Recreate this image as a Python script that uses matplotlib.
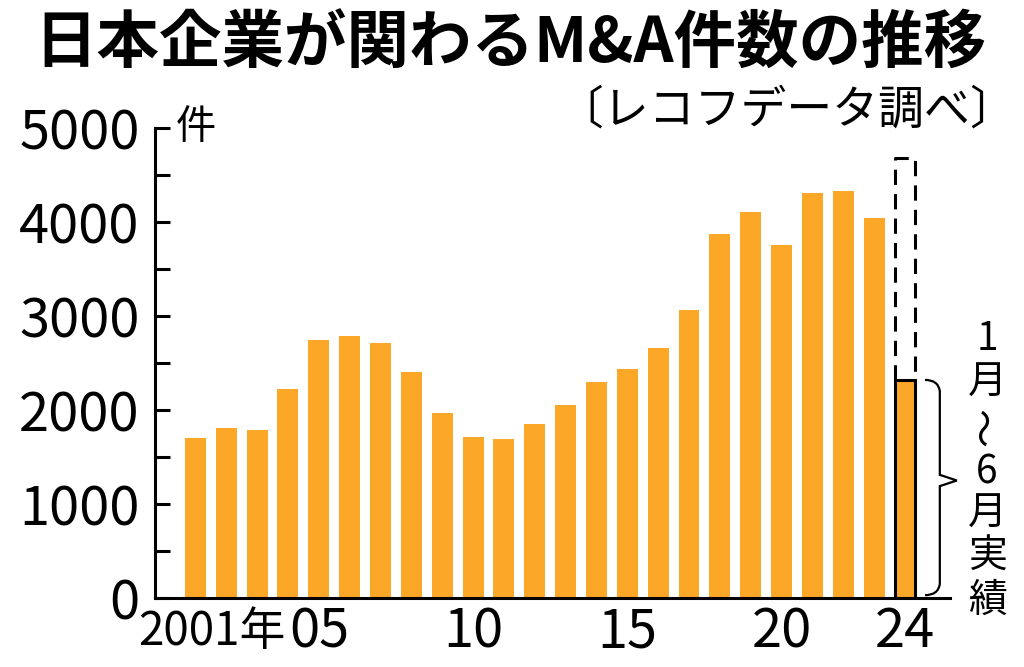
import matplotlib
matplotlib.use("Agg")
import matplotlib.pyplot as plt
from matplotlib.path import Path
from matplotlib.patches import PathPatch

plt.rcParams['font.family'] = ['Noto Sans CJK JP', 'DejaVu Sans']

years = list(range(2001, 2025))
counts = [1700, 1810, 1785, 2220, 2745, 2785, 2710, 2400, 1965, 1710, 1690, 1850,
          2050, 2295, 2435, 2660, 3060, 3870, 4105, 3755, 4305, 4325, 4040, 2320]
projection_2024 = 4680
xtick_years = [2001, 2005, 2010, 2015, 2020, 2024]
xtick_labels = ['2001年', '05', '10', '15', '20', '24']
ytick_values = [0, 1000, 2000, 3000, 4000, 5000]
ytick_labels = ['0', '1000', '2000', '3000', '4000', '5000']

title = '日本企業が関わるM&A件数の推移'
source = '〔レコフデータ調べ〕'
unit = '件'
note_chars = ['1', '月', '〜', '6', '月', '実', '績']

BAR = '#FDA729'
fig = plt.figure(figsize=(10.24, 6.67), dpi=100)
ax = fig.add_axes([155/1024, 69/667, 795/1024, 470/667])

ax.bar(years[:-1], counts[:-1], width=0.68, color=BAR, edgecolor='none')
ax.bar(years[-1], counts[-1], width=0.64, color=BAR, edgecolor='black', linewidth=2.2)
# dashed projection outline
x24 = years[-1]
w = 0.64
ax.plot([x24 - w/2, x24 - w/2, x24 + w/2, x24 + w/2],
        [counts[-1], projection_2024, projection_2024, counts[-1]],
        color='black', lw=2.2, ls=(0, (5, 3)), solid_capstyle='butt', clip_on=False)

ax.set_xlim(1999.69, 2025.46)
ax.set_ylim(0, 5000)
for s in ['top', 'right']:
    ax.spines[s].set_visible(False)
ax.spines['left'].set_linewidth(2.2)
ax.spines['bottom'].set_linewidth(2.2)

ax.set_yticks(ytick_values)
ax.set_yticklabels(ytick_labels)
ax.set_yticks([500, 1500, 2500, 3500, 4500], minor=True)
ax.tick_params(axis='y', which='both', direction='in', length=11, width=2.2,
               labelsize=39, pad=11)
ax.set_xticks([])

for yr, lab in zip(xtick_years, xtick_labels):
    if lab.endswith('年'):
        ax.text(yr - 1.86, -360, lab, ha='left', va='center', fontsize=33, clip_on=False)
    else:
        ax.text(yr, -360, lab, ha='center', va='center', fontsize=39, clip_on=False)

ax.text(years[0], 5000, unit, ha='center', va='center', fontsize=29)

# brace
yt = counts[-1]
x0, xm, xt = 2024.65, 2025.13, 2025.68
ymid = yt / 2 + 90
c = 120
verts = [(x0, yt), (xm - 0.05, yt), (xm, yt - c),
         (xm, ymid + 60), (xt, ymid), (xm, ymid - 60),
         (xm, 30 + c), (xm - 0.05, 30), (x0, 30)]
codes = [Path.MOVETO, Path.CURVE3, Path.CURVE3,
         Path.LINETO, Path.LINETO, Path.LINETO,
         Path.LINETO, Path.CURVE3, Path.CURVE3]
ax.add_patch(PathPatch(Path(verts, codes), fill=False, lw=1.6, color='black', clip_on=False))

# vertical note
ys = [339, 383, 427, 472, 514, 557, 601]
for ch, ypx in zip(note_chars, ys):
    rot = 90 if ch == '〜' else 0
    fig.text(987/1024, 1 - ypx/667, ch, ha='center', va='center', fontsize=28, rotation=rot)

fig.text(510/1024, 1 - 44/667, title, ha='center', va='center', fontsize=45, fontweight='bold')
fig.text(787/1024, 1 - 110/667, source, ha='center', va='center', fontsize=33)

fig.savefig('out.png', dpi=100)
